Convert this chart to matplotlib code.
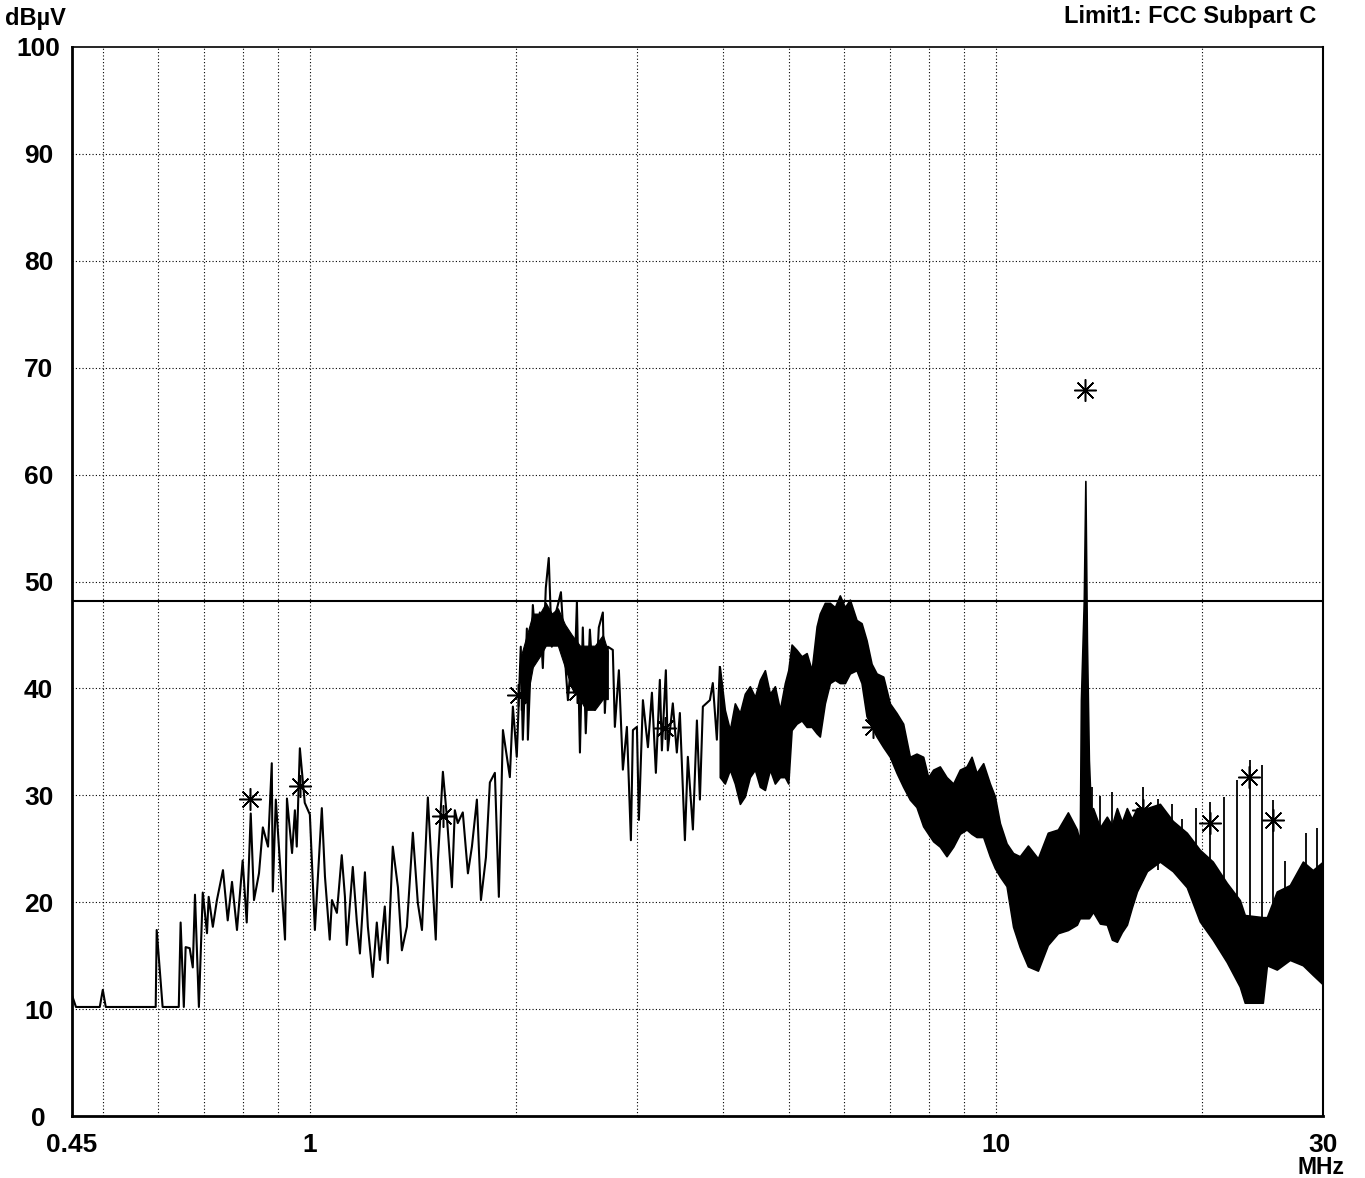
import matplotlib
matplotlib.use("Agg")
import matplotlib.pyplot as plt

plt.rcParams['font.family'] = ['Liberation Sans', 'DejaVu Sans']

# scan trace, sparse part (MHz, dBuV)
trace_mhz = [0.45, 0.456, 0.494, 0.499, 0.504, 0.596, 0.598, 0.610, 0.644, 0.648,
             0.655, 0.659, 0.668, 0.675, 0.680, 0.689, 0.698, 0.708, 0.712, 0.722,
             0.732, 0.747, 0.759, 0.770, 0.783, 0.798, 0.809, 0.820, 0.829, 0.843,
             0.854, 0.869, 0.880, 0.883, 0.892, 0.904, 0.920, 0.926, 0.942, 0.951,
             0.957, 0.967, 0.983, 1.000, 1.017, 1.041, 1.052, 1.069, 1.077, 1.095,
             1.113, 1.125, 1.132, 1.155, 1.171, 1.183, 1.203, 1.215, 1.235, 1.252,
             1.265, 1.286, 1.299, 1.321, 1.344, 1.362, 1.385, 1.413, 1.437, 1.457,
             1.486, 1.506, 1.526, 1.537, 1.563, 1.584, 1.611, 1.627, 1.643, 1.671,
             1.700, 1.723, 1.752, 1.776, 1.806, 1.830, 1.861, 1.886, 1.912, 1.957,
             1.977, 2.003, 2.030, 2.044, 2.072, 2.079, 2.114, 2.143, 2.164, 2.186,
             2.208, 2.230, 2.253, 2.276, 2.299, 2.323, 2.354, 2.378, 2.410, 2.427,
             2.451, 2.476, 2.500, 2.525, 2.560, 2.603, 2.638, 2.674, 2.692, 2.719,
             2.765, 2.784, 2.822, 2.860, 2.899, 2.938, 2.958, 2.998, 3.018, 3.059,
             3.111, 3.153, 3.195, 3.238, 3.260, 3.304, 3.326, 3.382, 3.428, 3.463,
             3.522, 3.557, 3.618, 3.667, 3.704, 3.741, 3.830, 3.868, 3.921, 3.960]
trace_dbuv = [11.3, 10.2, 10.2, 11.8, 10.2, 10.2, 17.4, 10.2, 10.2, 18.1,
              10.2, 15.8, 15.7, 13.9, 20.7, 10.2, 20.9, 17.1, 20.5, 17.7,
              20.2, 23.0, 18.3, 21.9, 17.4, 23.9, 18.1, 28.3, 20.2, 22.7,
              27.0, 25.2, 33.0, 21.0, 29.6, 23.9, 16.5, 29.7, 24.6, 28.6,
              25.2, 34.4, 29.3, 28.2, 17.4, 28.8, 22.4, 16.5, 20.2, 19.0,
              24.4, 20.5, 16.0, 23.3, 18.1, 15.2, 22.8, 17.7, 13.0, 18.1,
              14.6, 19.6, 14.3, 25.2, 21.4, 15.5, 17.7, 26.5, 19.9, 17.4,
              29.8, 23.0, 16.5, 23.9, 32.2, 28.0, 21.4, 28.6, 27.4, 28.4,
              22.7, 25.2, 29.6, 20.2, 24.2, 31.2, 32.1, 20.5, 36.1, 31.7,
              38.3, 33.6, 43.9, 35.2, 45.6, 35.2, 47.8, 42.9, 47.1, 41.9,
              49.4, 52.2, 43.9, 46.7, 47.8, 49.0, 42.9, 38.9, 43.3, 39.6,
              48.1, 34.0, 45.7, 35.8, 45.5, 38.0, 45.7, 47.1, 37.7, 43.9,
              43.6, 36.4, 41.7, 32.4, 36.4, 25.8, 36.1, 36.4, 27.7, 38.9,
              34.5, 39.6, 32.1, 40.8, 34.2, 41.7, 34.2, 38.6, 34.0, 37.7,
              25.8, 33.6, 26.8, 37.0, 29.6, 38.3, 38.9, 40.5, 35.2, 42.0]

# densely packed core of the trace around 2-2.7 MHz
core_mhz = [2.030, 2.072, 2.114, 2.164, 2.208, 2.253, 2.299, 2.354, 2.410,
            2.476, 2.525, 2.603, 2.674, 2.719]
core_hi = [43.0, 45.0, 47.0, 47.0, 48.0, 47.0, 47.5, 46.0, 45.0,
           44.0, 44.0, 44.0, 45.0, 43.5]
core_lo = [38.0, 39.0, 42.0, 43.0, 44.0, 44.0, 44.0, 42.0, 40.0,
           39.0, 38.0, 38.0, 39.0, 39.0]

# dense part of the trace: upper / lower envelope
band_mhz = [3.960, 4.027, 4.096, 4.165, 4.236, 4.307, 4.380, 4.455, 4.530, 4.607,
            4.685, 4.764, 4.845, 4.927, 4.983, 5.039, 5.124, 5.212, 5.300, 5.390,
            5.481, 5.540, 5.634, 5.730, 5.827, 5.925, 6.026, 6.128, 6.266, 6.373,
            6.481, 6.591, 6.703, 6.855, 7.008, 7.168, 7.328, 7.495, 7.664, 7.838,
            7.970, 8.105, 8.288, 8.477, 8.669, 8.865, 9.066, 9.220, 9.376, 9.587,
            9.804, 9.970, 10.14, 10.37, 10.60, 10.84, 11.14, 11.52, 11.91, 12.32,
            12.74, 13.13, 13.26, 13.31, 13.44, 13.51, 13.58, 13.67, 13.77, 13.86,
            14.19, 14.52, 14.77, 15.02, 15.27, 15.53, 15.79, 16.06, 16.61, 17.35,
            18.12, 18.99, 19.84, 20.72, 21.72, 22.69, 23.07, 24.51, 24.85, 25.69,
            26.84, 28.04, 28.99, 30.0]
band_hi = [42.0, 38.0, 36.1, 38.6, 37.7, 39.5, 40.2, 39.2, 40.8, 41.7,
           39.5, 40.2, 38.0, 40.5, 41.7, 44.1, 43.6, 43.0, 43.3, 41.7,
           45.8, 47.0, 48.0, 48.0, 47.6, 48.7, 47.6, 48.3, 46.4, 46.1,
           44.5, 42.3, 41.4, 41.1, 38.6, 37.7, 36.7, 33.6, 33.9, 33.6,
           31.7, 32.4, 32.7, 31.7, 31.1, 32.4, 32.7, 33.6, 32.1, 33.0,
           31.1, 29.9, 27.4, 25.5, 24.6, 24.3, 25.3, 24.1, 26.5, 26.8,
           28.4, 26.8, 25.6, 38.9, 48.3, 59.4, 44.5, 33.3, 28.2, 28.8,
           27.0, 28.0, 27.2, 28.8, 27.5, 28.8, 27.8, 28.8, 28.8, 29.2,
           27.6, 26.5, 24.9, 23.8, 21.8, 20.2, 18.8, 18.6, 18.6, 21.0,
           21.6, 23.8, 23.0, 23.8]
band_lo = [31.7, 31.1, 32.4, 31.1, 29.2, 29.9, 31.7, 32.4, 30.8, 30.5,
           32.4, 31.1, 31.7, 31.7, 31.1, 36.1, 36.7, 37.0, 36.4, 36.4,
           35.8, 35.5, 38.6, 40.5, 40.8, 40.5, 40.5, 41.4, 41.7, 40.5,
           37.4, 36.4, 35.5, 34.5, 33.6, 32.1, 30.8, 29.6, 28.9, 27.1,
           26.4, 25.7, 25.2, 24.3, 25.2, 26.4, 26.8, 26.4, 26.1, 26.1,
           24.3, 23.2, 22.4, 21.5, 17.7, 15.8, 14.0, 13.6, 16.0, 17.1,
           17.4, 17.9, 18.5, 18.5, 18.5, 18.5, 18.5, 18.5, 18.8, 19.1,
           18.0, 17.9, 16.5, 16.3, 17.2, 17.9, 19.5, 21.0, 22.9, 23.8,
           22.9, 21.4, 18.2, 16.5, 14.4, 12.1, 10.6, 10.6, 14.1, 13.7,
           14.6, 14.1, 13.2, 12.3]

# narrow spikes standing above the band
spike_mhz = [13.81, 14.19, 14.77, 16.39, 17.23, 18.06, 18.68, 19.57, 20.52,
             21.51, 22.46, 23.47, 24.43, 25.35, 26.39, 28.32, 29.39]
spike_top = [30.8, 29.9, 30.3, 30.8, 29.7, 29.2, 27.8, 28.8, 29.4,
             29.8, 31.4, 33.3, 32.8, 29.6, 23.9, 26.5, 26.9]
spike_base = [20.0, 20.0, 20.0, 22.0, 23.0, 23.0, 22.0, 20.0, 17.4,
              17.4, 16.5, 17.7, 16.2, 16.5, 16.0, 16.0, 16.0]

# marked peaks
peak_mhz = [0.818, 0.967, 1.564, 2.011, 2.224, 2.452, 3.294, 6.62,
            13.5, 16.4, 20.5, 23.4, 25.4]
peak_dbuv = [29.7, 30.9, 28.1, 39.4, 46.2, 39.7, 36.3, 36.4,
             67.9, 28.6, 27.4, 31.7, 27.7]

limit_mhz = [0.45, 30]
limit_dbuv = [48.2, 48.2]

grid_mhz = [0.5, 0.6, 0.7, 0.8, 0.9, 1, 2, 3, 4, 5, 6, 7, 8, 9, 10, 20]
xtick_mhz = [0.45, 1, 10, 30]
xtick_lbl = ['0.45', '1', '10', '30']

assert len(trace_mhz) == len(trace_dbuv)
assert len(band_mhz) == len(band_hi) == len(band_lo)

fig = plt.figure(figsize=(13.65, 11.78), dpi=100)
ax = fig.add_axes([72 / 1365, 62 / 1178, 1251 / 1365, 1069 / 1178])
ax.set_xscale('log')
ax.set_xlim(0.45, 30)
ax.set_ylim(0, 100)

# dotted grid
for g in grid_mhz:
    ax.axvline(g, color='black', lw=0.8, ls=(0, (1, 2)), zorder=1)
for g in range(10, 100, 10):
    ax.axhline(g, color='black', lw=0.8, ls=(0, (1, 2)), zorder=1)

ax.plot(trace_mhz, trace_dbuv, color='black', lw=1.5, zorder=3)
ax.fill_between(core_mhz, core_lo, core_hi, color='black', lw=0.8, zorder=3)
ax.fill_between(band_mhz, band_lo, band_hi, color='black', lw=1.2, zorder=3)
ax.vlines(spike_mhz, spike_base, spike_top, color='black', lw=1.3, zorder=3)
ax.plot(limit_mhz, limit_dbuv, color='black', lw=1.5, zorder=4)
ax.plot(peak_mhz, peak_dbuv, ls='none', marker=(8, 2, 0), ms=16,
        mec='black', mfc='black', mew=1.1, zorder=5)

ax.set_xticks(xtick_mhz)
ax.set_xticklabels(xtick_lbl)
ax.xaxis.set_minor_locator(matplotlib.ticker.NullLocator())
ax.set_yticks(range(0, 101, 10))
ax.set_yticklabels([str(v) for v in range(0, 101, 10)])
ax.tick_params(axis='x', length=0, pad=12, labelsize=19)
ax.tick_params(axis='y', length=0, pad=24, labelsize=19)
for lbl in ax.get_xticklabels() + ax.get_yticklabels():
    lbl.set_fontweight('bold')
for lbl in ax.get_yticklabels():
    lbl.set_horizontalalignment('center')

ax.spines['left'].set_linewidth(2.0)
ax.spines['bottom'].set_linewidth(2.0)
ax.spines['top'].set_linewidth(1.2)
ax.spines['right'].set_linewidth(1.5)

fig.text(5 / 1365, 1 - 19 / 1178, 'dBµV', ha='left', va='center',
         fontsize=17, fontweight='bold')
fig.text(1316 / 1365, 1 - 17 / 1178, 'Limit1: FCC Subpart C', ha='right',
         va='center', fontsize=17, fontweight='bold')
fig.text(1321 / 1365, 1 - 1168 / 1178, 'MHz', ha='center', va='center',
         fontsize=16.5, fontweight='bold')

fig.savefig('out.png', dpi=100, facecolor='white')
